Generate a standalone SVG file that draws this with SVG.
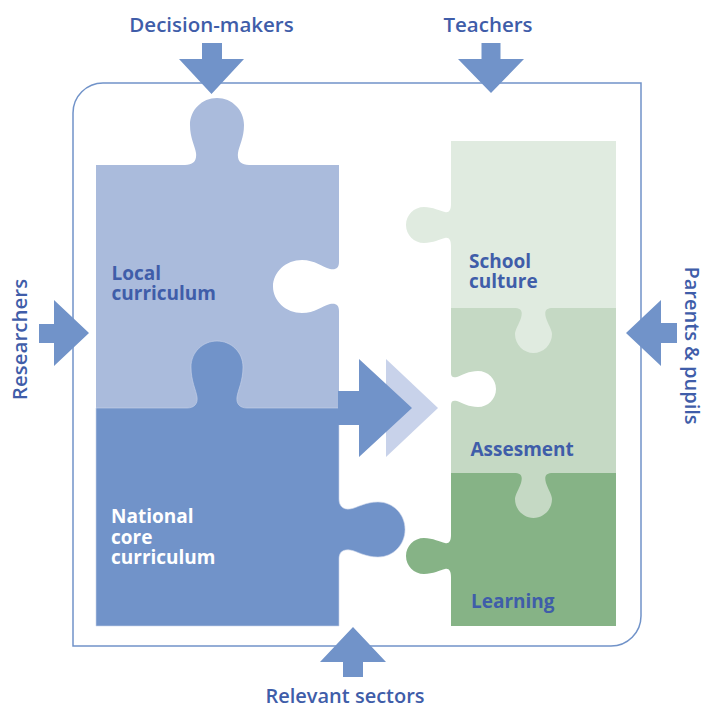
<svg xmlns="http://www.w3.org/2000/svg" width="701" height="707" viewBox="0 0 701 707">
<style>
.lbl{font-family:"Open Sans","Liberation Sans",sans-serif;font-weight:600;font-size:20.5px;fill:#3f5da9}
.sm{font-size:20px}
.in{font-family:"Open Sans","Liberation Sans",sans-serif;font-weight:700;font-size:19px;fill:#3f5da9}
.inw{fill:#ffffff}
.arr{fill:#7193c9}
.frame{fill:none;stroke:#7193c9;stroke-width:1.5}
</style>
<rect width="701" height="707" fill="#ffffff"/>
<path id="frame" class="frame" d="M73,113 A30,30 0 0 1 103,83 H641 V616 A30,30 0 0 1 611,646 H73 Z"/>

<g id="local-curriculum">
<path fill="#aabbdc" d="M96,165 H185 C193,165 197,161 196,153 C195,146 190,138 190,125 C190,110 202,98 217,98 C232,98 244,110 244,125 C244,138 239,146 238,153 C237,161 241,165 249,165 H339 V262 C339,268 336,270 330,269 C322,267 315,260 302,260 C286,260 273,272 273,286.5 C273,301 286,313 302,313 C315,313 322,306 330,304 C336,303 339,305 339,311 V408 H96 Z"/>
<text class="in" x="111.5" y="280">Local</text>
<text class="in" x="111.5" y="300">curriculum</text>
</g>

<g id="national-core-curriculum">
<path fill="#7193c9" stroke="#c9d4ea" stroke-width="0.6" d="M96,408 H187 C194,408 198,404 197,397 C196,390 191,381 191,367 C191,352 203,341 217,341 C231,341 243,352 243,367 C243,381 238,390 237,397 C236,404 240,408 247,408 H339 V499 C339,505 342,510 350,509 C357,508 365,502 378,502 C393,502 405,514 405,529.5 C405,545 393,557 378,557 C365,557 357,551 350,550 C342,549 339,553 339,559 V626 H96 Z"/>
<text class="in inw" x="111" y="523">National</text>
<text class="in inw" x="111" y="543.5">core</text>
<text class="in inw" x="111" y="564">curriculum</text>
</g>

<g id="learning">
<path fill="#86b386" d="M451,473 H616 V626 H451 V577 C451,571 449,568 445,569 C440,570 433,574 424,574 C414,574 406,566 406,556 C406,546 414,538 424,538 C433,538 440,542 445,543 C449,544 451,541 451,535 Z"/>
<text class="in" x="471" y="607.5">Learning</text>
</g>

<g id="assesment">
<path fill="#c5d9c4" d="M451,308 H616 V473 H553 C546,473 544,476 546,483 C548,489 552,495 552,499 C552,510 543,518 533.5,518 C524,518 515,510 515,499 C515,495 519,489 521,483 C523,476 521,473 514,473 H451 V405 C451,401 453,400 457,401 C462,403 469,407 478,407 C488,407 496,399 496,389 C496,379 488,371 478,371 C469,371 462,375 457,377 C453,378 451,377 451,373 Z"/>
<text class="in" x="470.5" y="455.5">Assesment</text>
</g>

<g id="school-culture">
<path fill="#e0ebe0" d="M451,141 H616 V308 H553 C546,308 544,311 546,318 C548,324 552,330 552,334 C552,345 543,353 533.5,353 C524,353 515,345 515,334 C515,330 519,324 521,318 C523,311 521,308 514,308 H451 V246 C451,240 449,237 445,238 C440,239 433,243 424,243 C414,243 406,235 406,225 C406,215 414,207 424,207 C433,207 440,211 445,212 C449,213 451,210 451,204 Z"/>
<text class="in" x="469" y="268">School</text>
<text class="in" x="469" y="288">culture</text>
</g>

<g id="decision-makers"><text class="lbl" x="211.5" y="31.5" text-anchor="middle">Decision-makers</text></g>
<g id="teachers"><text class="lbl" x="488" y="31.5" text-anchor="middle">Teachers</text></g>
<g id="researchers"><text class="lbl" transform="translate(27,339.5) rotate(-90)" text-anchor="middle">Researchers</text></g>
<g id="parents-pupils"><text class="lbl sm" transform="translate(685,345.5) rotate(90)" text-anchor="middle">Parents &amp; pupils</text></g>
<g id="relevant-sectors"><text class="lbl sm" x="345" y="703" text-anchor="middle">Relevant sectors</text></g>

<g id="connectors">
<polygon class="arr" points="202,43 222,43 222,59 244,59 211.5,94 179,59 202,59"/>
<polygon class="arr" points="481.5,43 500.5,43 500.5,59 524,59 491,93 458,59 481.5,59"/>
<polygon class="arr" points="39,324 54,324 54,300 89,333 54,366 54,343 39,343"/>
<polygon class="arr" points="677,323 661,323 661,300 626,333 661,366 661,343 677,343"/>
<polygon class="arr" points="353,627 386,662 363,662 363,677 343,677 343,662 320,662"/>
<polygon fill="#c8d2ea" points="386,359 438,408 386,457"/>
<polygon class="arr" points="338,391 359,391 359,359 412,408 359,457 359,425 338,425"/>
</g>
</svg>
